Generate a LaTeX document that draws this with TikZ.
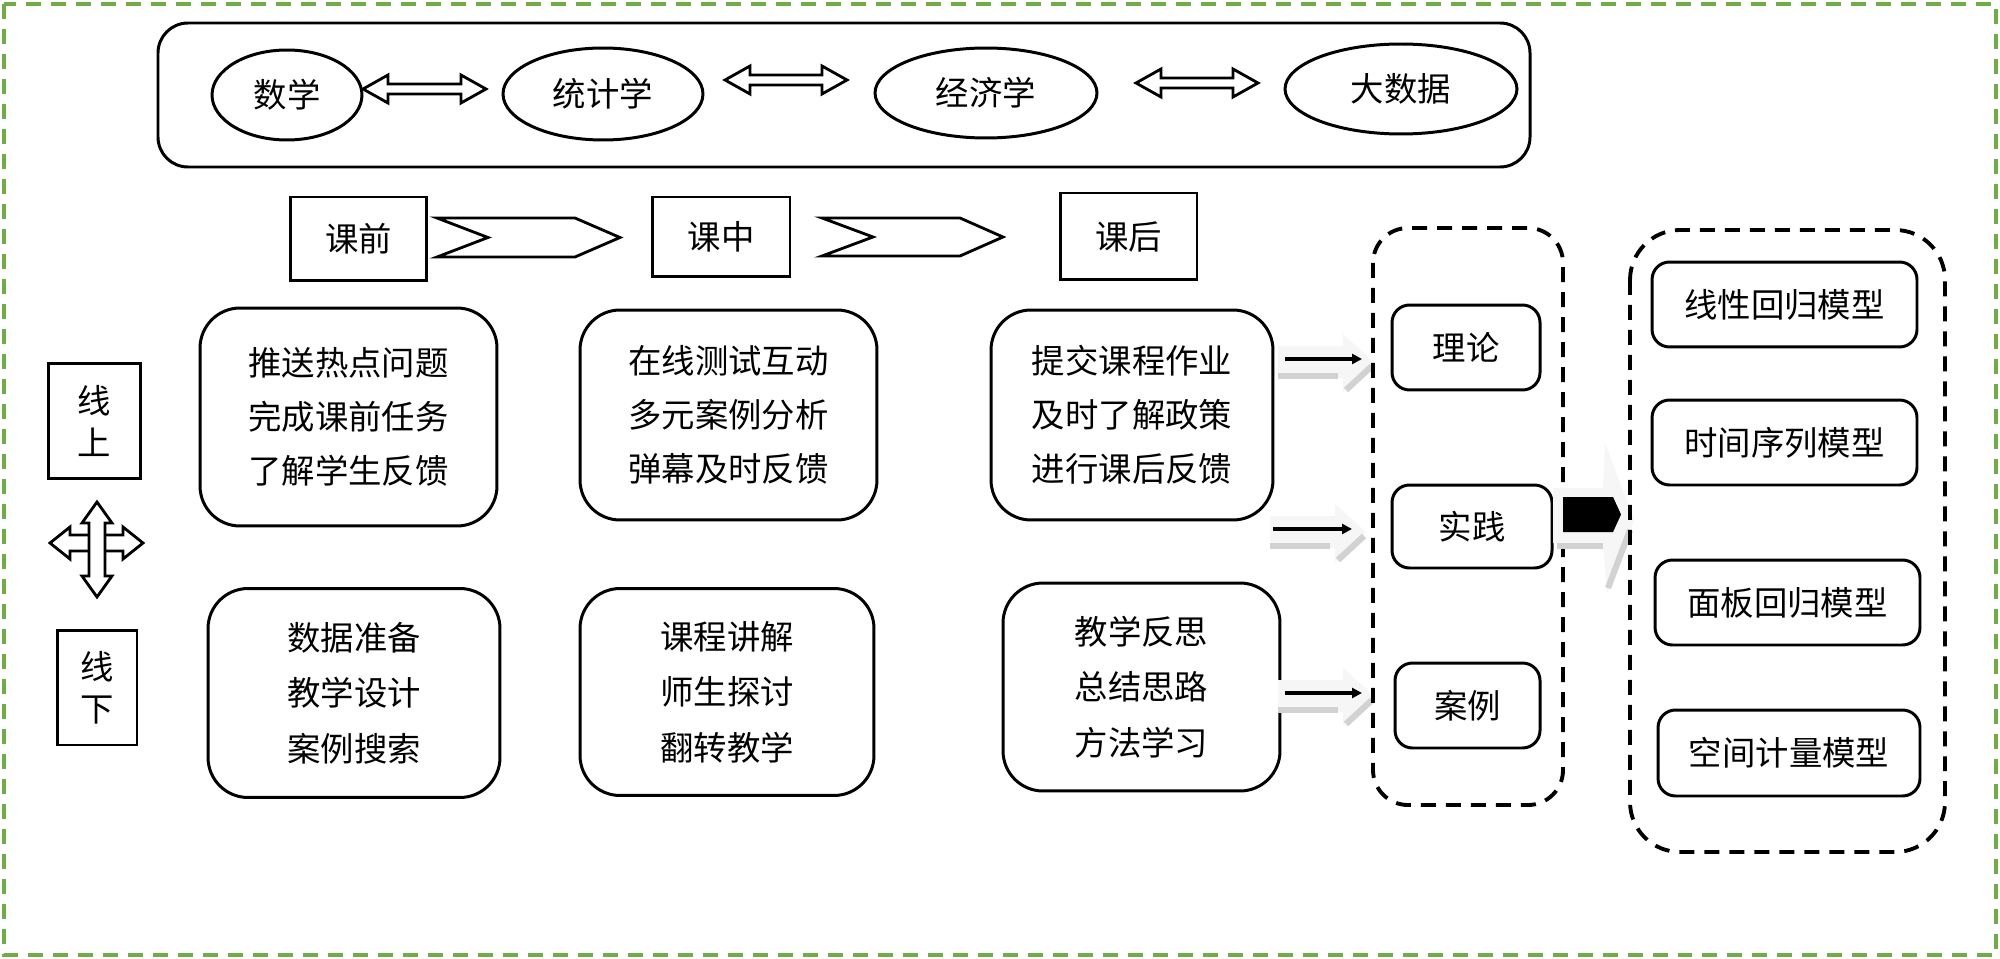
\documentclass[tikz,border=0pt]{standalone}
\usepackage{fontspec}
\setmainfont{Noto Sans CJK SC}
\usetikzlibrary{shapes.geometric,arrows.meta}
\definecolor{bordergreen}{RGB}{112,173,71}
\tikzset{
  txt/.style={font=\fontsize{19pt}{30.7pt}\selectfont, align=center, inner sep=0pt},
  ell/.style={draw, ellipse, line width=1.7pt, txt},
  sqbox/.style={draw, line width=1.7pt, txt},
  rbox/.style={draw, line width=1.7pt, rounded corners=0.8cm, txt},
  sbox/.style={draw, line width=1.7pt, rounded corners=0.35cm, txt},
  dbox/.style={draw, line width=2.2pt, dash pattern=on 0.3cm off 0.2cm},
  blockarr/.style={draw, line width=1.6pt, fill=white, line join=miter},
  blk/.style={-{Triangle[length=0.2cm,width=0.2cm]}, line width=2.2pt},
  lightarr/.style={fill=gray!7, draw=none},
  shadowln/.style={draw=gray!35, line width=3.5pt}
}
\newcommand{\dblarr}[3]{%
  \draw[blockarr] (#1,#3) -- ++(25,-14) -- ++(0,9) -- (#2-25,#3-5) -- ++(0,-9) -- (#2,#3) -- (#2-25,#3+14) -- ++(0,-9) -- (#1+25,#3+5) -- ++(0,9) -- cycle;}
\newcommand{\grayarr}[2]{%
  \fill[lightarr] (#1,#2-16) -- (#1+65,#2-16) -- (#1+65,#2-28) -- (#1+96,#2) -- (#1+65,#2+30) -- (#1+65,#2+16) -- (#1,#2+16) -- cycle;
  \draw[shadowln] (#1,#2+14) -- (#1+60,#2+14);
  \draw[shadowln] (#1+68,#2+28) -- (#1+94,#2+4);}
\begin{document}
\begin{tikzpicture}[x=0.02cm,y=-0.02cm]
\useasboundingbox (0,0) rectangle (2000,959);
% outer green dashed frame
\draw[bordergreen, line width=2.3pt, dash pattern=on 0.3cm off 0.2cm] (4,4) rectangle (1996,955);

% top band
\draw[line width=1.7pt, rounded corners=0.6cm] (158,23) rectangle (1530,167);
\node[ell, minimum width=3cm, minimum height=1.8cm] (math) at (287,95) {数学};
\node[ell, minimum width=4cm, minimum height=1.84cm] (stat) at (603,94) {统计学};
\node[ell, minimum width=4.44cm, minimum height=1.8cm] (econ) at (986,93) {经济学};
\node[ell, minimum width=4.64cm, minimum height=1.8cm] (bigd) at (1401,89) {大数据};
\dblarr{363}{486}{89}
\dblarr{725}{847}{80}
\dblarr{1136}{1258}{83}

% phase boxes
\node[sqbox, minimum width=2.74cm, minimum height=1.68cm] (pre) at (358.5,239) {课前};
\node[sqbox, minimum width=2.76cm, minimum height=1.6cm] (mid) at (721,237) {课中};
\node[sqbox, minimum width=2.74cm, minimum height=1.74cm] (post) at (1128.5,236.5) {课后};
\draw[blockarr] (437,218) -- (575,218) -- (620,237.5) -- (575,257) -- (437,257) -- (488,237.5) -- cycle;
\draw[blockarr] (822,218) -- (960,218) -- (1003,237) -- (960,256) -- (822,256) -- (873,237) -- cycle;

% online / offline labels
\node[sqbox, minimum width=1.86cm, minimum height=2.32cm, font=\fontsize{19pt}{24pt}\selectfont] (online) at (94.5,421) {线\\上};
\node[sqbox, minimum width=1.6cm, minimum height=2.3cm, font=\fontsize{19pt}{24pt}\selectfont] (offline) at (97,687.5) {线\\下};
\draw[blockarr] (50,543) -- (70,527) -- (70,535) -- (123,535) -- (123,527) -- (143,543) -- (123,559) -- (123,551) -- (70,551) -- (70,559) -- cycle;
\draw[blockarr] (97,502) -- (112,523) -- (105,523) -- (105,576) -- (112,576) -- (97,597) -- (82,576) -- (89,576) -- (89,523) -- (82,523) -- cycle;

% online row
\node[rbox, minimum width=5.94cm, minimum height=4.36cm] (on1) at (348.5,417) {推送热点问题\\完成课前任务\\了解学生反馈};
\node[rbox, minimum width=5.94cm, minimum height=4.2cm] (on2) at (728.5,415) {在线测试互动\\多元案例分析\\弹幕及时反馈};
\node[rbox, minimum width=5.64cm, minimum height=4.2cm] (on3) at (1132,415) {提交课程作业\\及时了解政策\\进行课后反馈};

% offline row
\node[rbox, minimum width=5.84cm, minimum height=4.18cm, font=\fontsize{19pt}{31.5pt}\selectfont] (off1) at (354,693) {数据准备\\教学设计\\案例搜索};
\node[rbox, minimum width=5.88cm, minimum height=4.14cm, font=\fontsize{19pt}{31.5pt}\selectfont] (off2) at (727,692) {课程讲解\\师生探讨\\翻转教学};
\node[rbox, minimum width=5.54cm, minimum height=4.16cm, font=\fontsize{19pt}{31.5pt}\selectfont] (off3) at (1141.5,687) {教学反思\\总结思路\\方法学习};

% gray shadow arrows + black arrows
\grayarr{1278}{362}
\grayarr{1270}{532}
\grayarr{1278}{696}
\coordinate (a1s) at (1285,359); \coordinate (a1e) at (1362,359);
\coordinate (a2s) at (1273,529); \coordinate (a2e) at (1352,529);
\coordinate (a3s) at (1285,693); \coordinate (a3e) at (1362,693);
\draw[blk] (a1s) -- (a1e);
\draw[blk] (a2s) -- (a2e);
\draw[blk] (a3s) -- (a3e);

% middle dashed group
\draw[dbox, rounded corners=0.7cm] (1373,228) rectangle (1563,805);
\node[sbox, minimum width=2.96cm, minimum height=1.7cm] (theory) at (1466,347.5) {理论};
\node[sbox, minimum width=3.2cm, minimum height=1.66cm] (practice) at (1472,526.5) {实践};
\node[sbox, minimum width=2.9cm, minimum height=1.7cm] (cases) at (1467.5,705.5) {案例};

% big arrow
\fill[lightarr] (1553,488) -- (1603,488) -- (1605,443) -- (1634,520) -- (1607,594) -- (1603,543) -- (1553,543) -- cycle;
\draw[shadowln] (1557,546) -- (1603,546);
\draw[shadowln] (1608,588) -- (1630,530);
\draw[dbox, rounded corners=1cm] (1630,230) rectangle (1945,852);
\fill[black] (1563,497) -- (1613,497) -- (1621,514.5) -- (1613,532) -- (1563,532) -- cycle;

% models
\node[sbox, minimum width=5.3cm, minimum height=1.7cm] (m1) at (1784.5,304.5) {线性回归模型};
\node[sbox, minimum width=5.3cm, minimum height=1.7cm] (m2) at (1784.5,442.5) {时间序列模型};
\node[sbox, minimum width=5.3cm, minimum height=1.7cm] (m3) at (1787.5,602.5) {面板回归模型};
\node[sbox, minimum width=5.24cm, minimum height=1.72cm] (m4) at (1789,753) {空间计量模型};
\end{tikzpicture}
\end{document}
